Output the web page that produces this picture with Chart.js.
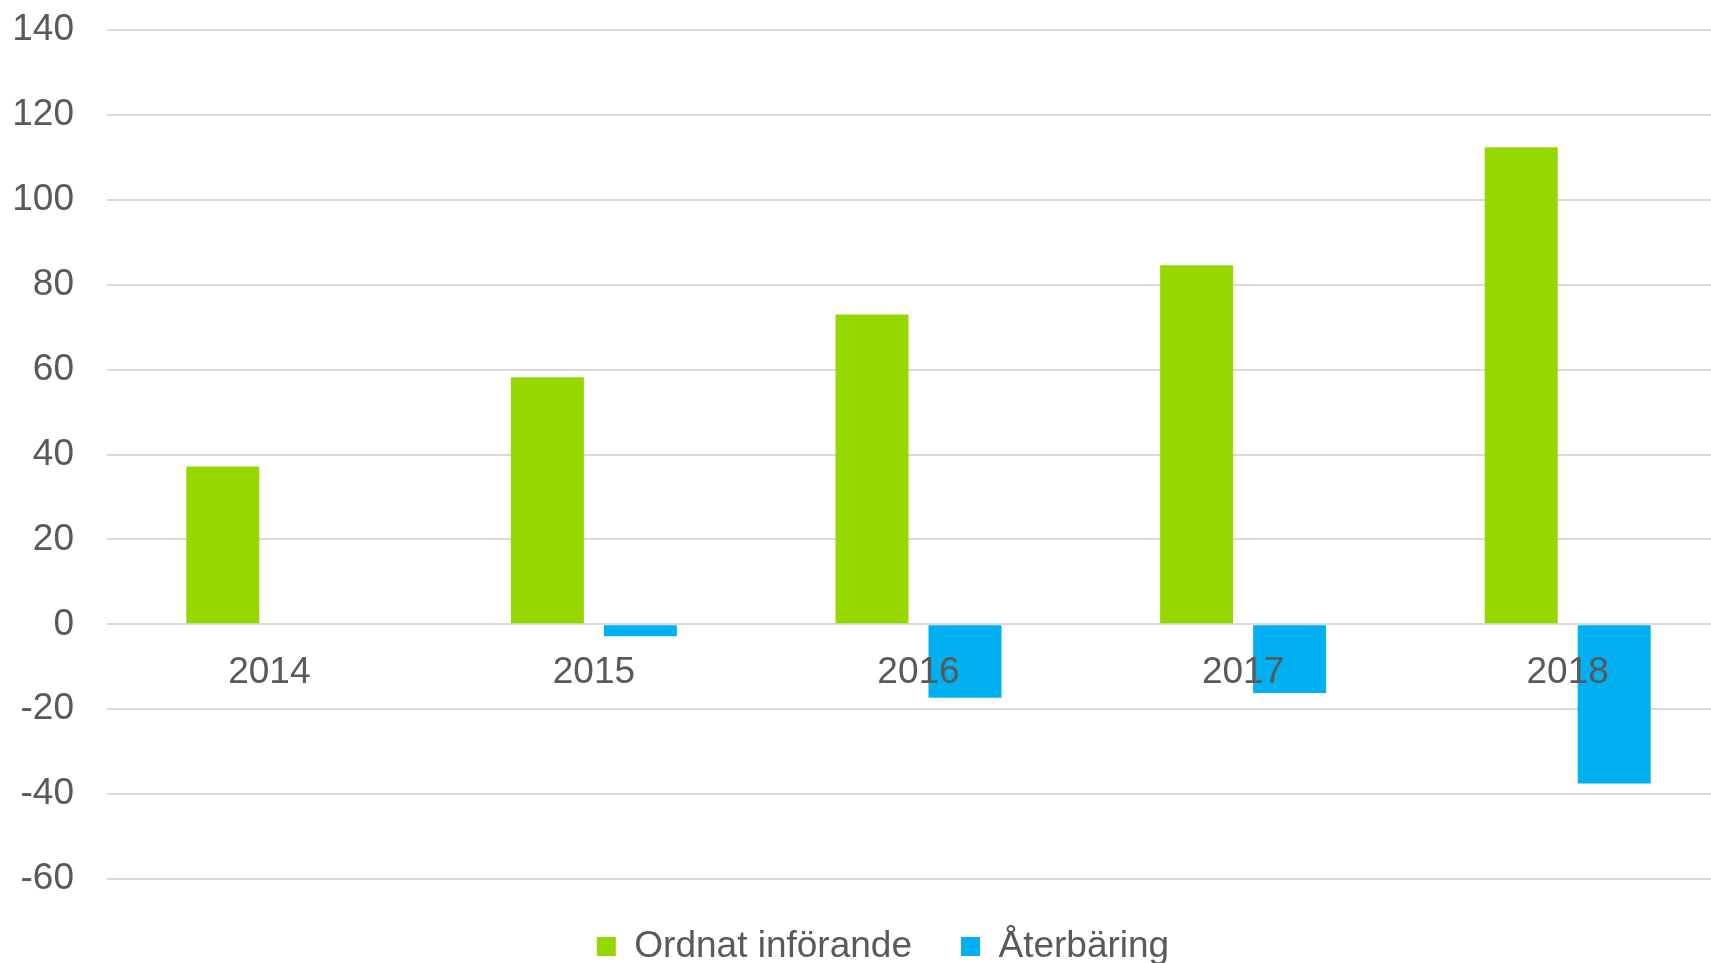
<!DOCTYPE html>
<html>
<head>
<meta charset="utf-8">
<script src="https://cdn.jsdelivr.net/npm/chart.js@4/dist/chart.umd.min.js"></script>
<style>
  html, body { margin: 0; padding: 0; background: #ffffff; overflow: hidden; }
  #frame { width: 1711px; height: 963px; overflow: hidden; position: relative; }
  #chart { display: block; position: absolute; left: 0; top: -25px; }
</style>
</head>
<body>
<div id="frame"><canvas id="chart" width="1766" height="1000"></canvas></div>
<script>
// Categories and series (miljoner)
const years = ['2014', '2015', '2016', '2017', '2018'];
const ordnatInforande = [37.2, 58.2, 73.0, 84.6, 112.4];
const aterbaring = [null, -2.8, -17.3, -16.2, -37.5];

// Value axis range
const yMin = -60;
const yMax = 140;
const yStep = 20;

const textColor = '#595959';
const gridColor = '#d9d9d9';
const fontFamily = '"Liberation Sans", Arial, sans-serif';
const fontSize = 37;

// Nudges the centred legend row a little to the right
const legendShift = {
  id: 'legendShift',
  afterLayout(chart, args, opts) {
    const lg = chart.legend;
    if (lg) {
      lg.left += opts.dx;
      lg.right += opts.dx;
    }
  }
};

new Chart(document.getElementById('chart'), {
  type: 'bar',
  data: {
    labels: years,
    datasets: [
      {
        label: 'Ordnat införande',
        data: ordnatInforande,
        backgroundColor: '#97d700',
        borderWidth: 0,
        barPercentage: 0.785,
        categoryPercentage: 0.573
      },
      {
        label: 'Återbäring',
        data: aterbaring,
        backgroundColor: '#00b0f0',
        borderWidth: 0,
        barPercentage: 0.785,
        categoryPercentage: 0.573
      }
    ]
  },
  plugins: [legendShift],
  options: {
    responsive: false,
    animation: false,
    devicePixelRatio: 1,
    layout: { padding: { left: 10, right: 36, top: 7, bottom: 0 } },
    plugins: {
      tooltip: { enabled: false },
      legendShift: { dx: 13 },
      legend: {
        position: 'bottom',
        labels: {
          boxWidth: 19,
          boxHeight: 19,
          padding: 49,
          color: textColor,
          font: { family: fontFamily, size: fontSize }
        }
      }
    },
    scales: {
      x: {
        position: { y: 0 },
        grid: { display: false, drawTicks: false },
        border: { display: false },
        ticks: {
          z: 1,
          padding: 26,
          color: textColor,
          font: { family: fontFamily, size: fontSize }
        }
      },
      y: {
        min: yMin,
        max: yMax,
        afterFit: (scale) => { scale.width = 97; },
        grid: { color: gridColor, lineWidth: 2, drawTicks: false },
        border: { display: false },
        ticks: {
          stepSize: yStep,
          padding: 33,
          color: textColor,
          font: { family: fontFamily, size: fontSize }
        }
      }
    }
  }
});
</script>
</body>
</html>
